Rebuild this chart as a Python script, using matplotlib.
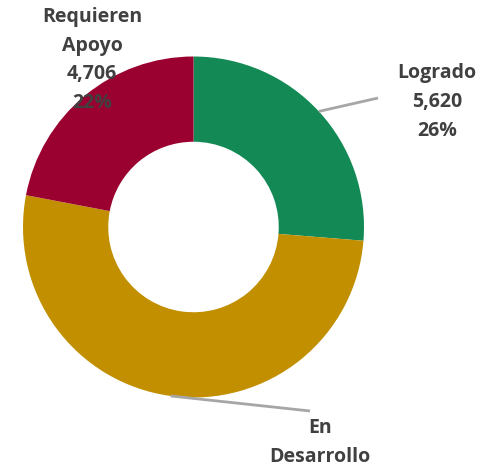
import numpy as np
import matplotlib.pyplot as plt

# data
categories = ["Logrado", "En\nDesarrollo", "Requieren\nApoyo"]
counts = [5620, 11054, 4706]
pct_labels = ["26%", "52%", "22%"]
count_labels = ["5,620", "11,054", "4,706"]
colors = ["#138A55", "#C18F00", "#9A0030"]

W, H = 484, 466
fig = plt.figure(figsize=(W / 100, H / 100), dpi=100)
ax = fig.add_axes([0, 0, 1, 1])

cx, cy, r_out = 193.5, H - 227, 170.5
wedges, _ = ax.pie(
    counts,
    colors=colors,
    startangle=90,
    counterclock=False,
    radius=r_out,
    center=(cx, cy),
    wedgeprops=dict(width=r_out * 0.5, linewidth=0),
)
ax.set_xlim(0, W)
ax.set_ylim(0, H)
ax.set_aspect("equal")
ax.axis("off")

# label anchor (text centre) and leader end, in pixel coords (y down)
label_pos = [(437, 102), (320, 471), (92, 60)]
leader_end = [(378, 98), (310, 411), None]

txt_kw = dict(ha="center", va="center", color="#404040", fontsize=14,
              fontweight="bold", family=["Open Sans", "DejaVu Sans"],
              linespacing=1.58, zorder=5)

for i, w in enumerate(wedges):
    mid = np.deg2rad((w.theta1 + w.theta2) / 2)
    if leader_end[i] is not None:
        sx = cx + r_out * np.cos(mid)
        sy = cy + r_out * np.sin(mid)
        ex, ey = leader_end[i]
        ax.plot([sx, ex], [sy, H - ey], color="#A6A6A6", lw=2, zorder=4,
                solid_capstyle="butt")
    lx, ly = label_pos[i]
    ax.text(lx, H - ly, f"{categories[i]}\n{count_labels[i]}\n{pct_labels[i]}",
            **txt_kw)

fig.savefig("out.png", dpi=100)
